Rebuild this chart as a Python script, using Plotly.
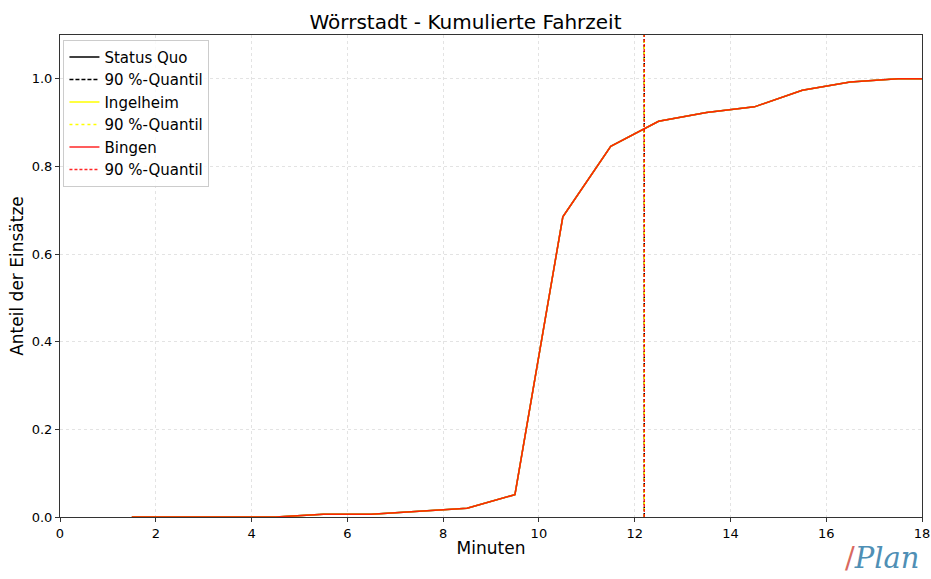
import plotly.graph_objects as go

minutes = [1.5, 2.5, 3.5, 4.5, 5.5, 6.5, 7.5, 8.5, 9.5, 10.5, 11.5, 12.5, 13.5, 14.5, 15.5, 16.5, 17.5, 18.5]
status_quo = [0.0, 0.0, 0.0, 0.0, 0.006, 0.006, 0.013, 0.02, 0.051, 0.685, 0.846, 0.903, 0.923, 0.936, 0.974, 0.993, 1.0, 1.0]
ingelheim = list(status_quo)
bingen = list(status_quo)
quantile_sq = 12.2
quantile_ing = 12.2
quantile_bin = 12.2

x_ticks = [0, 2, 4, 6, 8, 10, 12, 14, 16, 18]
y_ticks = [0.0, 0.2, 0.4, 0.6, 0.8, 1.0]

FONT = "DejaVu Sans"
fig = go.Figure()

series = [
    ("Status Quo", status_quo, quantile_sq, "black", 1.0, "4px,2px"),
    ("Ingelheim", ingelheim, quantile_ing, "yellow", 1.0, "3px,3px"),
    ("Bingen", bingen, quantile_bin, "red", 0.85, "3px,2px"),
]
for name, vals, q, col, op, dash in series:
    fig.add_trace(go.Scatter(x=minutes, y=vals, mode="lines", name=name,
                             line=dict(color=col, width=1.5), opacity=op))
    fig.add_trace(go.Scatter(x=[q, q], y=[0, 1.1], mode="lines", name="90 %-Quantil",
                             line=dict(color=col, width=1.5, dash=dash), opacity=op))

fig.update_layout(
    template="none",
    width=931, height=579,
    margin=dict(l=60, r=9, t=35, b=62, autoexpand=False),
    paper_bgcolor="white", plot_bgcolor="white",
    font=dict(family=FONT, size=13, color="black"),
    title=dict(text="Wörrstadt - Kumulierte Fahrzeit", x=0.5, xanchor="center",
               y=1 - 22 / 579, yanchor="middle", font=dict(size=20, family=FONT)),
    legend=dict(x=0.004, y=0.99, xanchor="left", yanchor="top",
                bgcolor="rgba(255,255,255,0.8)", bordercolor="#cccccc", borderwidth=1,
                font=dict(size=15, family=FONT), tracegroupgap=0, itemwidth=30),
    showlegend=True,
)
fig.update_xaxes(range=[0, 18], tickvals=x_ticks, ticktext=[str(t) for t in x_ticks],
                 automargin=False,
                 showgrid=True, gridcolor="#e3e3e3", griddash="dot", gridwidth=1,
                 showline=True, linecolor="#333333", linewidth=1, mirror=True,
                 ticks="outside", ticklen=4, tickcolor="#333333", zeroline=False,
                 title=dict(text="Minuten", font=dict(size=17, family=FONT), standoff=2))
fig.update_yaxes(range=[0, 1.1], tickvals=y_ticks, ticktext=[f"{t:.1f}" for t in y_ticks],
                 automargin=False,
                 showgrid=True, gridcolor="#e3e3e3", griddash="dot", gridwidth=1,
                 showline=True, linecolor="#333333", linewidth=1, mirror=True,
                 ticks="outside", ticklen=4, tickcolor="#333333", zeroline=False,
                 title=dict(text="Anteil der Einsätze", font=dict(size=17, family=FONT), standoff=3))

fig.add_annotation(xref="paper", yref="paper", x=(882 - 60) / 862, y=-(558 - 517) / 482,
                   text="<span style='color:#d9695f'>/</span><span style='color:#4f8fb5'><i>Plan</i></span>",
                   showarrow=False, font=dict(size=29, family="DejaVu Serif"),
                   xanchor="center", yanchor="middle")

fig.write_html("out.html", config={"displayModeBar": False},
               post_script="document.body.style.margin='0';document.body.style.padding='0';")
